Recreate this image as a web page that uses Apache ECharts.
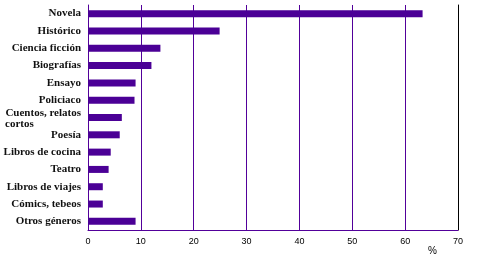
<!DOCTYPE html>
<html>
<head>
<meta charset="utf-8">
<script src="https://cdn.jsdelivr.net/npm/echarts@6/dist/echarts.min.js"></script>
<style>html,body{margin:0;padding:0;background:#fff}#c{width:484px;height:264px}</style>
</head>
<body>
<div id="c"></div>
<script>
const categories = ["Novela", "Histórico", "Ciencia ficción", "Biografías", "Ensayo", "Policiaco", "Cuentos, relatos cortos", "Poesía", "Libros de cocina", "Teatro", "Libros de viajes", "Cómics, tebeos", "Otros géneros"];
const values = [63.3, 24.9, 13.7, 12.0, 9.0, 8.8, 6.4, 6.0, 4.3, 3.9, 2.8, 2.8, 9.0];
const xTicks = [0, 10, 20, 30, 40, 50, 60, 70];
const unitLabel = "%";

const purple = "#52009a";
const chart = echarts.init(document.getElementById('c'));
chart.setOption({
  animation: false,
  title: {text: unitLabel, left: 423, top: 241, textStyle: {fontFamily: 'Liberation Sans', fontSize: 10, fontWeight: 'normal', color: '#000'}},
  grid: {left: 88, right: 26, top: 5, bottom: 34, containLabel: false},
  xAxis: {
    type: 'value', min: xTicks[0], max: xTicks[xTicks.length - 1], interval: 10,
    axisLine: {show: true, lineStyle: {color: purple, width: 1}},
    axisTick: {show: false},
    axisLabel: {margin: 7, fontFamily: 'Liberation Sans', fontSize: 9, color: '#000'},
    splitLine: {show: true, showMinLine: false, showMaxLine: false, lineStyle: {color: purple, width: 1}}
  },
  yAxis: [{
    type: 'category', inverse: true, data: categories,
    axisLine: {show: true, lineStyle: {color: purple, width: 1}},
    axisTick: {show: false},
    axisLabel: {
      margin: 7, interval: 0, color: '#111', fontFamily: 'Liberation Serif', fontWeight: 'bold', fontSize: 11, lineHeight: 13,
      formatter: function (v) {
        if (v === "Cuentos, relatos cortos") return "{a|Cuentos, relatos}\n{b|cortos}";
        return v;
      },
      rich: {
        a: {fontFamily: 'Liberation Serif', fontWeight: 'bold', fontSize: 11, color: '#111', lineHeight: 13, padding: [4, 0, 0, 0]},
        b: {fontFamily: 'Liberation Serif', fontWeight: 'bold', fontSize: 11, color: '#111', lineHeight: 13, width: 76, align: 'left'}
      }
    }
  }, {
    type: 'category', inverse: true, position: 'right', data: categories,
    axisLine: {show: true, lineStyle: {color: '#000', width: 1}},
    axisTick: {show: false}, axisLabel: {show: false}
  }],
  series: [{
    type: 'bar', data: values, barWidth: 7, yAxisIndex: 0,
    itemStyle: {color: '#4b0096'}
  }]
});
</script>
</body>
</html>
